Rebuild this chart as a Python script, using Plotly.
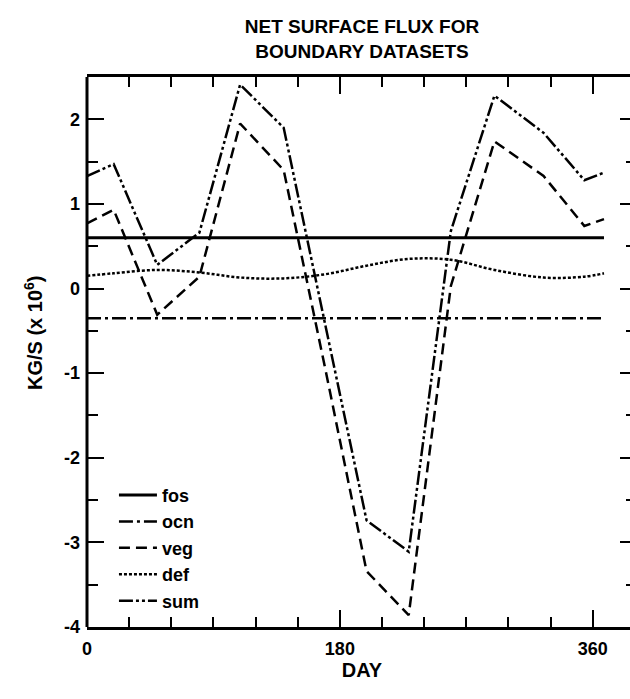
import plotly.graph_objects as go

# ---- data ----
days = [0, 19, 50, 80, 109, 140, 170, 199, 229, 259, 290, 325, 354, 368]
sum_vals = [1.33, 1.47, 0.28, 0.66, 2.41, 1.90, -0.46, -2.74, -3.11, 0.68, 2.28, 1.84, 1.28, 1.37]
veg_vals = [0.77, 0.93, -0.31, 0.14, 1.95, 1.40, -0.98, -3.34, -3.86, 0.03, 1.74, 1.33, 0.74, 0.82]
def_vals = [0.15, 0.18, 0.22, 0.19, 0.13, 0.12, 0.17, 0.27, 0.35, 0.34, 0.22, 0.13, 0.14, 0.18]
fos_days = [0, 368]
fos_vals = [0.6, 0.6]
ocn_days = [0, 368]
ocn_vals = [-0.35, -0.35]

x_tick_vals = [0, 180, 360]
x_tick_text = ["0", "180", "360"]
x_minor_vals = [30, 60, 90, 120, 150, 210, 240, 270, 300, 330, 390]
y_tick_vals = [2, 1, 0, -1, -2, -3, -4]
y_tick_text = ["2", "1", "0", "-1", "-2", "-3", "-4"]
y_minor_vals = [2.5, 1.5, 0.5, -0.5, -1.5, -2.5, -3.5]

FONT = "Liberation Sans, Arial, Helvetica, sans-serif"

fig = go.Figure()
fig.add_trace(go.Scatter(x=fos_days, y=fos_vals, mode="lines", name="fos",
                         line=dict(color="black", width=3)))
fig.add_trace(go.Scatter(x=ocn_days, y=ocn_vals, mode="lines", name="ocn",
                         line=dict(color="black", width=2.5, dash="14px,4px,3px,4px")))
fig.add_trace(go.Scatter(x=days, y=veg_vals, mode="lines", name="veg",
                         line=dict(color="black", width=2.5, dash="11px,6px")))
fig.add_trace(go.Scatter(x=days, y=def_vals, mode="lines", name="def",
                         line=dict(color="black", width=2.5, dash="3px,2px", shape="spline")))
fig.add_trace(go.Scatter(x=days, y=sum_vals, mode="lines", name="sum",
                         line=dict(color="black", width=2.5, dash="14px,3px,3px,3px,3px,3px")))

fig.update_layout(
    width=640, height=699,
    margin=dict(l=87, r=3, t=77, b=72, autoexpand=False),
    paper_bgcolor="white", plot_bgcolor="white",
    font=dict(family=FONT, color="black"),
    title=dict(text="NET SURFACE FLUX FOR<br>BOUNDARY DATASETS",
               x=0.5, xref="paper", xanchor="center",
               y=1 - 33 / 699, yref="container", yanchor="top",
               font=dict(size=19, family=FONT, color="black", weight="bold")),
    showlegend=True,
    legend=dict(x=0.049, xanchor="left", y=0.273, yanchor="top",
                bgcolor="rgba(0,0,0,0)", borderwidth=0,
                font=dict(size=18, family=FONT, color="black", weight="bold"),
                itemwidth=38, tracegroupgap=0),
    xaxis=dict(range=[0, 391.5], showgrid=False, zeroline=False, automargin=False,
               showline=True, linecolor="black", linewidth=2.5, mirror="ticks",
               ticks="inside", ticklen=17, tickwidth=2, tickcolor="black",
               tickvals=x_tick_vals, ticktext=x_tick_text,
               minor=dict(tickvals=x_minor_vals, ticks="inside", ticklen=10,
                          tickwidth=2, tickcolor="black", showgrid=False),
               tickfont=dict(size=18, family=FONT, color="black", weight="bold"),
               ticklabelstandoff=4,
               title=dict(text="DAY", standoff=1,
                          font=dict(size=20, family=FONT, color="black", weight="bold"))),
    yaxis=dict(range=[-4, 2.5], showgrid=False, zeroline=False, automargin=False,
               showline=False, mirror="ticks",
               ticks="inside", ticklen=17, tickwidth=2, tickcolor="black",
               tickvals=y_tick_vals, ticktext=y_tick_text,
               minor=dict(tickvals=y_minor_vals, ticks="inside", ticklen=11,
                          tickwidth=2, tickcolor="black", showgrid=False),
               tickfont=dict(size=18, family=FONT, color="black", weight="bold"),
               ticklabelstandoff=6),
    annotations=[dict(text="KG/S (x 10<sup>6</sup>)", textangle=-90,
                      xref="paper", yref="paper", x=(33 - 87) / 550, y=(627 - 333) / 550,
                      xanchor="center", yanchor="middle", showarrow=False,
                      font=dict(size=20, family=FONT, color="black", weight="bold"))],
    shapes=[dict(type="line", xref="paper", yref="paper", x0=0, x1=0, y0=0, y1=1,
                 line=dict(color="black", width=3), layer="above")],
)

fig.write_html("out.html",
               config={"displayModeBar": False},
               post_script="document.body.style.margin='0px';document.body.style.overflow='hidden';")
